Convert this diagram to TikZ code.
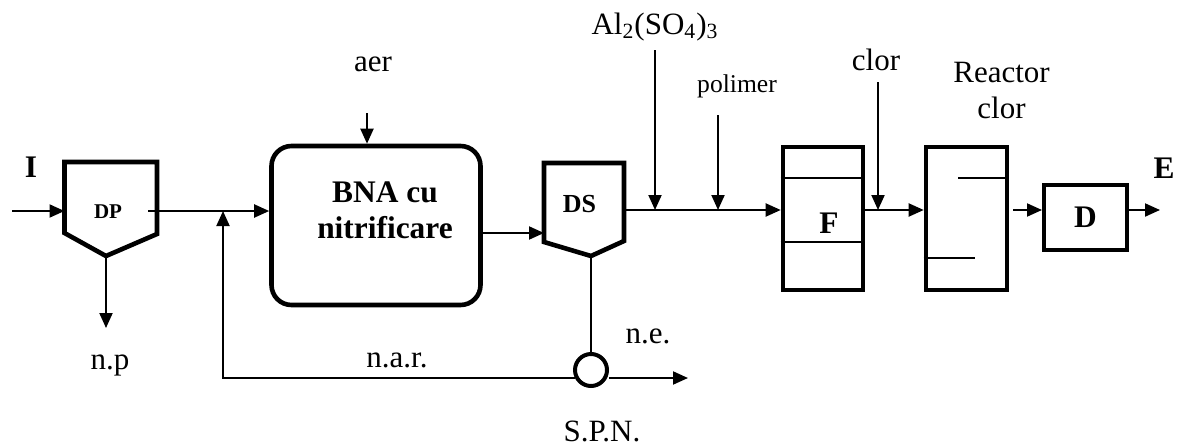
\documentclass[tikz,border=0pt]{standalone}
\usepackage{fontspec}
\setmainfont{Liberation Serif}
\usetikzlibrary{arrows.meta}
\begin{document}
\begin{tikzpicture}[x=0.5pt,y=-0.5pt,
  flow/.style={line width=1pt,-{Triangle[length=7.5pt,width=6.5pt]}},
  pipe/.style={line width=1pt},
  unitline/.style={line width=2.3pt,line join=miter},
  lbl/.style={inner sep=0pt,align=center,font=\fontsize{15.5}{18}\selectfont},
  blbl/.style={inner sep=0pt,align=center,font=\fontsize{15.7}{18}\selectfont\bfseries},
  box/.style={draw,unitline,inner sep=0pt},
]
\useasboundingbox (0,0) rectangle (1181,445);

% ---- primary settler DP
\coordinate (dpNW) at (64.5,162);
\coordinate (dpNE) at (157,162);
\coordinate (dpSE) at (157,234);
\coordinate (dpB)  at (106,256);
\coordinate (dpSW) at (64.5,233);
\draw[unitline] (dpNW) -- (dpNE) -- (dpSE) -- (dpB) -- (dpSW) -- cycle;
\node[blbl,font=\fontsize{10.5}{12}\selectfont\bfseries] (dp) at (108,212) {DP};

% ---- aeration basin
\node[box,rounded corners=10pt,minimum width=104.5pt,minimum height=79.5pt] (bna) at (376,225.5) {};
\node[blbl] (bnatxt) at (385,210) {BNA cu\\nitrificare};

% ---- secondary settler DS
\coordinate (dsNW) at (544,163);
\coordinate (dsNE) at (624,163);
\coordinate (dsSE) at (624,241);
\coordinate (dsB)  at (591,256);
\coordinate (dsSW) at (544,242);
\draw[unitline] (dsNW) -- (dsNE) -- (dsSE) -- (dsB) -- (dsSW) -- cycle;
\node[blbl,font=\fontsize{13}{15}\selectfont\bfseries] (ds) at (579.5,204) {DS};

% ---- filter F
\node[box,minimum width=40pt,minimum height=71.5pt] (f) at (823,218.5) {};
\draw[pipe] (f.west |- 0,178) -- (f.east |- 0,178);
\draw[pipe] (f.west |- 0,242) -- (f.east |- 0,242);
\node[blbl] (ftxt) at (829,223) {F};

% ---- chlorine contact reactor
\node[box,minimum width=40.5pt,minimum height=71.5pt] (rc) at (966.5,218.5) {};
\coordinate (bafA) at (958,178);
\coordinate (bafB) at (975,258);
\draw[pipe] (bafA) -- (rc.east |- bafA);
\draw[pipe] (rc.west |- bafB) -- (bafB);

% ---- dechlorination D
\node[box,line width=2pt,minimum width=41.5pt,minimum height=32.5pt,blbl] (d) at (1085.5,217.5) {D};

% ---- sludge pumping station
\coordinate (spnW) at (575,378);
\coordinate (spnE) at (609,378);
\coordinate (rcyC) at (223,378);
\coordinate (rcyJ) at (223,211);
\coordinate (neOut) at (688,378);
\draw[flow] (spnW) -- (rcyC) -- (rcyJ);
\draw[flow] (spnE) -- (neOut);
\draw[pipe] (dsB) -- (591,354);
\node[draw,circle,line width=2pt,fill=white,minimum size=16pt,inner sep=0pt] (spn) at (591,370) {};

% ---- main line
\coordinate (inI) at (12,211);
\coordinate (dpOut) at (148,211);
\coordinate (bnaOut) at (481,233);
\coordinate (dsOut) at (624,210);
\coordinate (dOut) at (1160,210);
\coordinate (rcOut) at (1013,210);
\draw[flow] (inI) -- (dpSW |- inI);
\draw[flow] (dpOut) -- (bna.west |- dpOut);
\draw[flow] (bnaOut) -- (dsSW |- bnaOut);
\draw[flow] (dsOut) -- (f.west |- dsOut);
\draw[flow] (f.east |- dsOut) -- (rc.west |- dsOut);
\draw[flow] (rcOut) -- (d.west |- rcOut);
\draw[flow] (d.east |- rcOut) -- (dOut);
\draw[flow] (dpB) -- (106,328);

% ---- dosing inputs
\coordinate (aerIn) at (367,113);
\coordinate (alIn) at (655,50);
\coordinate (polIn) at (718,115);
\coordinate (clIn) at (878,82);
\draw[flow] (aerIn) -- (aerIn |- bna.north);
\draw[flow] (alIn) -- (alIn |- dsOut);
\draw[flow] (polIn) -- (polIn |- dsOut);
\draw[flow] (clIn) -- (clIn |- dsOut);

% ---- labels
\node[blbl] (li) at (31,167) {I};
\node[blbl] (le) at (1164,168) {E};
\node[lbl] (laer) at (373,64) {aer};
\node[lbl] (lal) at (655,27) {Al\textsubscript{2}(SO\textsubscript{4})\textsubscript{3}};
\node[lbl,font=\fontsize{12.8}{15}\selectfont] (lpol) at (737,86) {polimer};
\node[lbl] (lcl) at (876,60) {clor};
\node[lbl] (lrc) at (1001.5,90) {Reactor\\clor};
\node[lbl] (lnp) at (110,365) {n.p};
\node[lbl] (lnar) at (397,360) {n.a.r.};
\node[lbl] (lne) at (648,336) {n.e.};
\node[lbl] (lspn) at (602,431) {S.P.N.};
\end{tikzpicture}
\end{document}
